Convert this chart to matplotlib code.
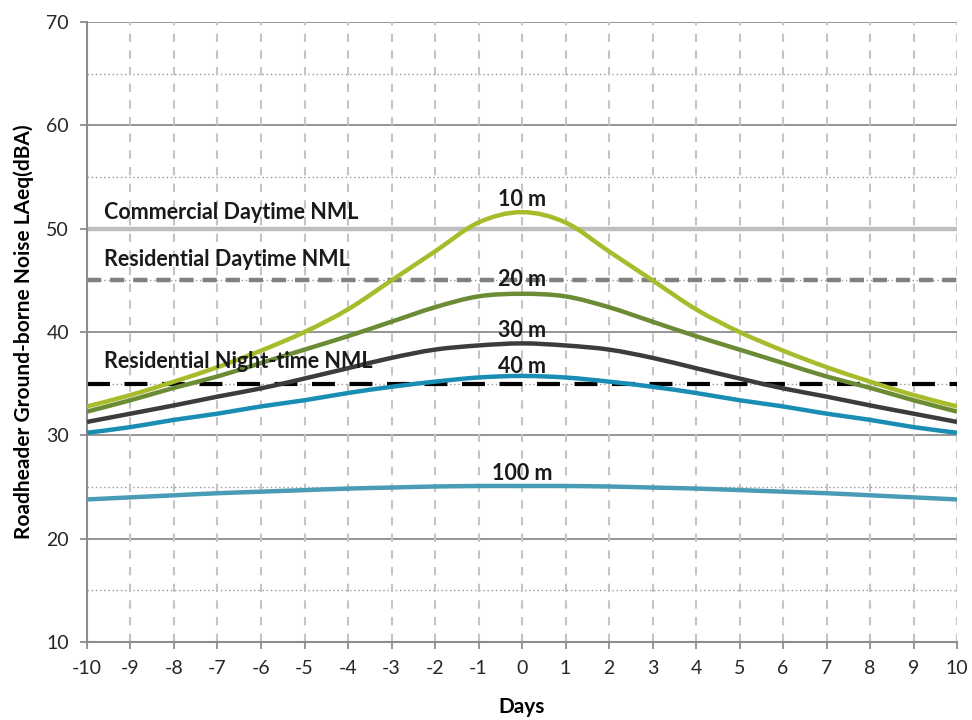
import matplotlib
matplotlib.use("Agg")
import matplotlib.pyplot as plt
from matplotlib.path import Path
from matplotlib.patches import PathPatch

plt.rcParams["axes.unicode_minus"] = False

days = list(range(-10, 11))
half_10 = [51.6, 50.6, 47.8, 45.0, 42.2, 40.0, 38.2, 36.6, 35.2, 33.9, 32.8]
half_20 = [43.7, 43.45, 42.4, 41.0, 39.6, 38.3, 37.0, 35.7, 34.6, 33.4, 32.3]
half_30 = [38.9, 38.7, 38.3, 37.5, 36.5, 35.5, 34.55, 33.75, 32.9, 32.1, 31.3]
half_40 = [35.75, 35.6, 35.2, 34.7, 34.1, 33.4, 32.8, 32.1, 31.5, 30.8, 30.25]
half_100 = [25.1, 25.1, 25.05, 24.95, 24.85, 24.7, 24.55, 24.4, 24.2, 24.0, 23.8]

def full(h):
    return h[:0:-1] + h

series = {
    "10 m": full(half_10),
    "20 m": full(half_20),
    "30 m": full(half_30),
    "40 m": full(half_40),
    "100 m": full(half_100),
}
colors = {"10 m": "#a8bb2b", "20 m": "#6b8c35", "30 m": "#3c3c3c",
          "40 m": "#1a8db5", "100 m": "#4a9cb6"}
label_y = {"10 m": 52.8, "20 m": 45.1, "30 m": 40.1, "40 m": 36.7, "100 m": 26.3}

nml_levels = [50, 45, 35]
nml_names = ["Commercial Daytime NML", "Residential Daytime NML", "Residential Night-time NML"]
nml_label_y = [51.6, 47.0, 37.1]


def smooth_path(xs, ys):
    """Excel-style smoothed line (Bezier through every data point)."""
    n = len(xs)
    verts = [(xs[0], ys[0])]
    codes = [Path.MOVETO]
    for i in range(n - 1):
        i0 = max(i - 1, 0)
        i3 = min(i + 2, n - 1)
        c1 = (xs[i] + (xs[i + 1] - xs[i0]) / 6.0, ys[i] + (ys[i + 1] - ys[i0]) / 6.0)
        c2 = (xs[i + 1] - (xs[i3] - xs[i]) / 6.0, ys[i + 1] - (ys[i3] - ys[i]) / 6.0)
        verts += [c1, c2, (xs[i + 1], ys[i + 1])]
        codes += [Path.CURVE4] * 3
    return Path(verts, codes)


fig = plt.figure(figsize=(9.72, 7.2), dpi=100)
ax = fig.add_axes([0.0895, 0.1083, 0.8951, 0.8611])
ax.set_xlim(-10, 10)
ax.set_ylim(10, 70)

# grid
for y in range(20, 71, 10):
    ax.axhline(y, color="#8c8c8c", lw=1.3, zorder=1)
for y in range(15, 70, 10):
    ax.axhline(y, color="#9a9a9a", lw=1.0, ls=(0, (1, 2)), zorder=1)
for x in range(-9, 11):
    ax.axvline(x, color="#c4c4c4", lw=1.5, ls=(0, (4, 4)), zorder=1)

# NML lines
ax.axhline(nml_levels[0], color="#bfbfbf", lw=3.2, zorder=2)
ax.axhline(nml_levels[1], color="#808080", lw=3.2, ls=(0, (3.2, 2.0)), zorder=2)
ax.axhline(nml_levels[2], color="#000000", lw=3.0, ls=(0, (5.5, 3.5)), zorder=2)

lab_font = dict(family=["Lato", "DejaVu Sans"], fontweight="bold", fontsize=15.5)
for name, yl in zip(nml_names, nml_label_y):
    ax.text(-9.6, yl, name, ha="left", va="center", color="#1a1a1a", zorder=5, **lab_font)

for name, vals in series.items():
    patch = PathPatch(smooth_path(days, vals), facecolor="none", edgecolor=colors[name],
                      lw=3.2, zorder=3, capstyle="butt", transform=ax.transData)
    ax.add_patch(patch)
    ax.text(0, label_y[name], name, ha="center", va="center", color="#1a1a1a", zorder=5, **lab_font)

ax.set_xticks(days)
ax.set_yticks(range(10, 71, 10))
ax.tick_params(axis="both", direction="out", length=5, width=1.3, color="#8c8c8c",
               labelsize=14, labelcolor="#262626")
ax.tick_params(axis="x", pad=8)
ax.tick_params(axis="y", pad=8)
for lbl in ax.get_xticklabels() + ax.get_yticklabels():
    lbl.set_family(["Lato", "DejaVu Sans"])
for s in ["top", "right"]:
    ax.spines[s].set_visible(False)
for s in ["left", "bottom"]:
    ax.spines[s].set_color("#8c8c8c")
    ax.spines[s].set_linewidth(1.5)

ax.set_xlabel("Days", fontsize=15, fontweight="bold", family=["Lato", "DejaVu Sans"], labelpad=14)
ax.set_ylabel("Roadheader Ground-borne Noise LAeq(dBA)", fontsize=15, fontweight="bold",
              family=["Lato", "DejaVu Sans"], labelpad=9)

fig.savefig("out.png", dpi=100)
